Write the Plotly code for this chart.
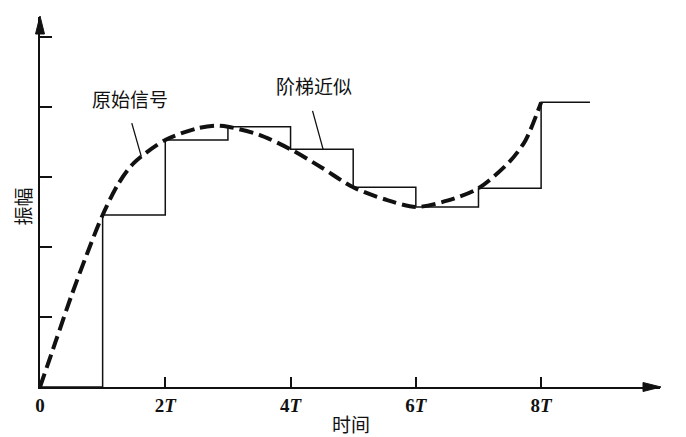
import plotly.graph_objects as go

# ---- data (time in units of T, amplitude in tick units) ----
curve_t = [0, 0.25, 0.5, 0.75, 1, 1.25, 1.5, 2, 2.5, 2.8, 3, 3.5, 4, 4.5, 5, 5.5, 6, 6.5, 7, 7.5, 7.75, 8]
curve_y = [0, 0.65, 1.3, 1.9, 2.455, 2.9, 3.2, 3.526, 3.69, 3.73, 3.716, 3.6, 3.393, 3.13, 2.851, 2.68, 2.57, 2.66, 2.837, 3.22, 3.52, 4.064]

step_t = [0, 1, 2, 3, 4, 5, 6, 7, 8, 8.78]
step_y = [0, 2.455, 3.526, 3.716, 3.393, 2.851, 2.57, 2.837, 4.064, 4.064]

x_tickvals = [0, 2, 4, 6, 8]
x_ticktext = ["<b>0</b>", "<b>2<i>T</i></b>", "<b>4<i>T</i></b>", "<b>6<i>T</i></b>", "<b>8<i>T</i></b>"]
y_tickvals = [1, 2, 3, 4, 5]

label_curve = "原始信号"
label_step = "阶梯近似"
x_title = "时间"
y_title = "振幅"

# ---- layout geometry (page body has an 8px margin) ----
W, H = 678, 429
L, T = 32.4, 9
pw, ph = 619.6, 370
R, B = W - L - pw, H - T - ph
x_unit, y_unit = 62.6, 70.05
xmax = pw / x_unit
ymax = ph / y_unit

cjk = "Noto Sans CJK SC"

fig = go.Figure()
fig.add_trace(go.Scatter(
    x=step_t, y=step_y, mode="lines", line=dict(shape="hv", color="#111", width=1.5),
    showlegend=False, hoverinfo="skip"))
fig.add_trace(go.Scatter(
    x=curve_t, y=curve_y, mode="lines",
    line=dict(shape="spline", smoothing=0.8, color="#111", width=4, dash="14px,6px"),
    showlegend=False, hoverinfo="skip"))

fig.update_layout(
    width=W, height=H, margin=dict(l=L, r=R, t=T, b=B),
    paper_bgcolor="white", plot_bgcolor="white",
    xaxis=dict(range=[0, xmax], showgrid=False, zeroline=False, showline=True,
               linecolor="#111", linewidth=1.8, ticks="inside", ticklen=10, tickwidth=1.6,
               tickcolor="#111", tickvals=x_tickvals, ticktext=x_ticktext,
               tickfont=dict(family="Liberation Serif", size=19, color="#111")),
    yaxis=dict(range=[0, ymax], showgrid=False, zeroline=False, showline=True,
               linecolor="#111", linewidth=1.8, ticks="inside", ticklen=12, tickwidth=1.6,
               tickcolor="#111", tickvals=y_tickvals, showticklabels=False),
)

# arrowheads at axis ends
fig.add_shape(type="path", xref="paper", yref="paper", xsizemode="pixel", ysizemode="pixel",
              xanchor=1, yanchor=0, path="M 1,0 L -17,4.5 L -17,-4.5 Z",
              fillcolor="#111", line=dict(color="#111", width=1))
fig.add_shape(type="path", xref="paper", yref="paper", xsizemode="pixel", ysizemode="pixel",
              xanchor=0, yanchor=1, path="M 0,1 L -4.5,-17 L 4.5,-17 Z",
              fillcolor="#111", line=dict(color="#111", width=1))

# leader lines
fig.add_annotation(x=1.618, y=3.288, ax=-10, ay=-35, text="", showarrow=True,
                   arrowhead=0, arrowwidth=1.3, arrowcolor="#111", standoff=0)
fig.add_annotation(x=4.52, y=3.393, ax=-11, ay=-40, text="", showarrow=True,
                   arrowhead=0, arrowwidth=1.3, arrowcolor="#111", standoff=0)

# labels
fig.add_annotation(x=1.431, y=4.118, text=label_curve, showarrow=False,
                   font=dict(family=cjk, size=19, color="#111"))
fig.add_annotation(x=4.371, y=4.311, text=label_step, showarrow=False,
                   font=dict(family=cjk, size=19, color="#111"))
fig.add_annotation(xref="paper", yref="paper", x=0.5024, y=0, yshift=-36, text=x_title,
                   xanchor="center", yanchor="middle", borderpad=0,
                   showarrow=False, font=dict(family=cjk, size=19, color="#111"))
fig.add_annotation(xref="paper", yref="paper", x=0, xshift=-17.1, y=0.4878, text=y_title,
                   xanchor="center", yanchor="middle",
                   textangle=-90, showarrow=False, font=dict(family=cjk, size=19, color="#111"))

fig.write_html("out.html")
